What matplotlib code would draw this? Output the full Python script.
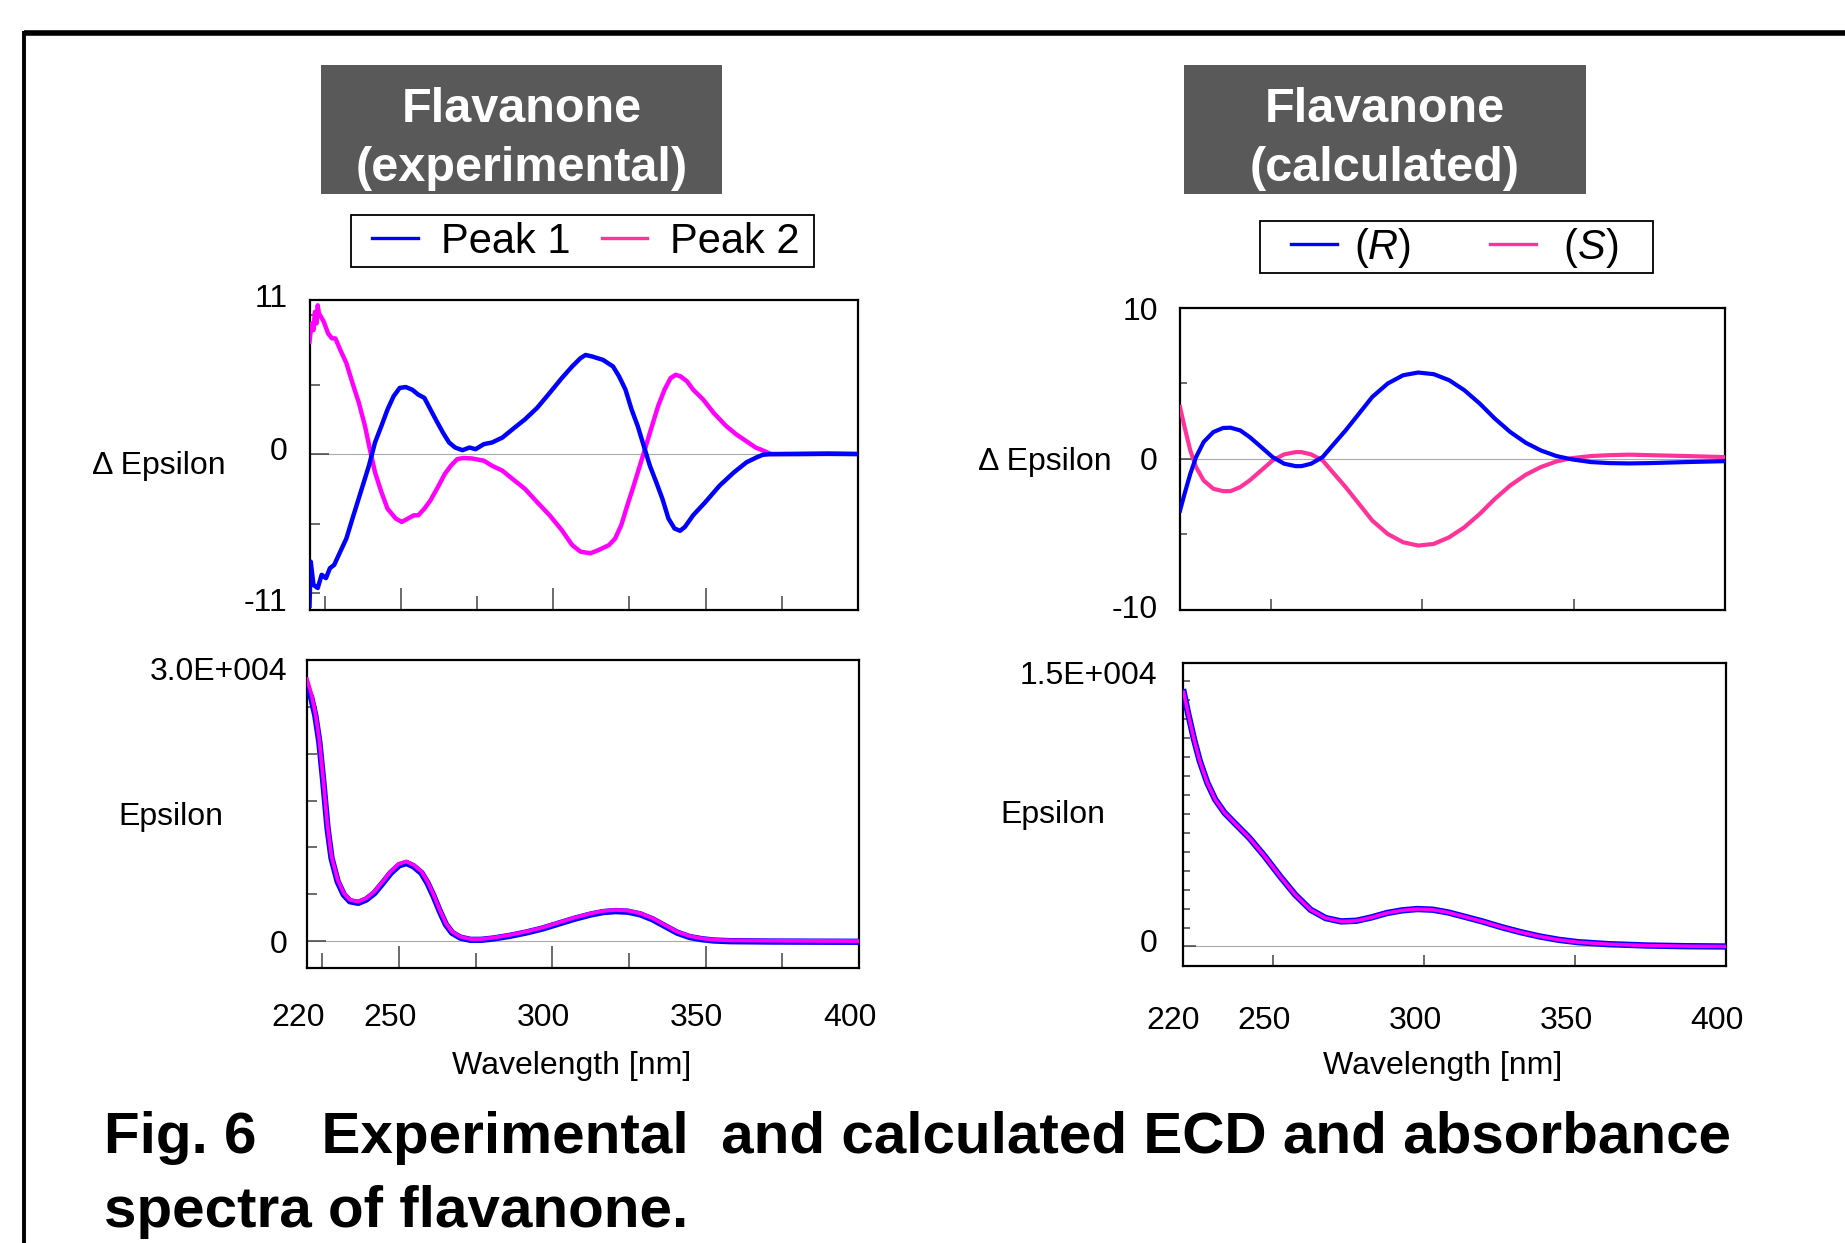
import numpy as np
import matplotlib
matplotlib.use("Agg")
import matplotlib.pyplot as plt
from matplotlib.lines import Line2D
from matplotlib.patches import Rectangle
from matplotlib.transforms import ScaledTranslation

plt.rcParams['font.family'] = ['Liberation Sans', 'DejaVu Sans']
plt.rcParams['mathtext.fontset'] = 'custom'
plt.rcParams['mathtext.rm'] = 'Liberation Sans'
plt.rcParams['mathtext.it'] = 'Liberation Sans:italic'

# ---------------- data ----------------
# Experimental ECD, Peak 1
exp_p1_nm = [220.0, 220.4, 221.3, 222.7, 224.0, 225.4, 226.7, 228.1, 230.1, 232.1, 234.1, 236.8,
             239.5, 241.5, 243.6, 245.6, 247.6, 249.6, 251.6, 253.7, 255.7, 257.7, 259.7, 261.7,
             263.8, 265.8, 267.8, 270.2, 272.5, 274.5, 277.2, 279.9, 283.3, 286.6, 290.7, 294.7,
             298.8, 302.8, 306.2, 308.9, 310.6, 312.9, 316.3, 319.6, 321.6, 323.7, 325.7, 327.7,
             329.7, 331.7, 333.8, 335.8, 337.8, 339.8, 341.6, 343.2, 345.9, 349.9, 354.6, 359.3,
             363.4, 366.7, 368.8, 371.5, 380.0, 390.0, 400.0]
exp_p1_de = [-12.0, -8.51, -10.35, -10.6, -9.55, -9.82, -9.03, -8.77, -7.72, -6.68, -5.10, -3.01,
             -0.92, 0.92, 2.23, 3.53, 4.58, 5.24, 5.31, 5.10, 4.71, 4.45, 3.53, 2.62,
             1.70, 0.92, 0.52, 0.31, 0.52, 0.39, 0.79, 0.92, 1.31, 1.96, 2.75, 3.66,
             4.84, 6.02, 6.94, 7.59, 7.85, 7.72, 7.46, 6.94, 6.15, 5.10, 3.53, 2.23,
             0.65, -0.92, -2.23, -3.53, -5.10, -5.89, -6.07, -5.76, -4.84, -3.80, -2.49, -1.44,
             -0.65, -0.26, -0.05, 0.0, 0.0, 0.02, 0.0]

# Experimental ECD, Peak 2
exp_p2_nm = [220.0, 220.7, 221.3, 221.8, 222.3, 222.7, 223.1, 223.8, 224.7, 226.1, 227.4, 228.5,
             230.1, 232.1, 234.1, 236.2, 238.2, 239.8, 241.5, 243.6, 245.6, 248.3, 250.3, 252.3,
             254.3, 255.7, 257.7, 259.7, 262.4, 264.4, 266.4, 268.5, 270.5, 273.2, 277.2, 279.9,
             283.3, 286.6, 290.7, 294.7, 298.8, 302.8, 306.2, 308.9, 312.2, 314.9, 318.3, 320.3,
             322.3, 324.3, 326.4, 328.4, 330.4, 332.4, 334.4, 336.5, 338.5, 340.2, 341.8, 343.9,
             345.9, 349.2, 352.6, 356.7, 360.0, 364.0, 366.4, 369.1, 371.5, 380.0, 390.0, 400.0]
exp_p2_de = [8.90, 10.34, 9.82, 11.26, 10.34, 11.78, 11.13, 10.86, 10.47, 9.55, 9.16, 9.16,
             8.25, 7.20, 5.63, 4.06, 2.23, 0.39, -1.44, -3.01, -4.32, -5.10, -5.37, -5.10,
             -4.84, -4.84, -4.32, -3.66, -2.49, -1.57, -0.92, -0.39, -0.31, -0.34, -0.52, -0.92,
             -1.31, -1.96, -2.75, -3.80, -4.84, -6.02, -7.20, -7.72, -7.85, -7.59, -7.20, -6.68,
             -5.63, -4.06, -2.49, -0.92, 0.65, 2.23, 3.80, 5.10, 6.02, 6.28, 6.15, 5.76,
             5.10, 4.32, 3.27, 2.23, 1.57, 0.92, 0.52, 0.26, 0.0, 0.03, 0.06, 0.02]

# Experimental absorbance
exp_abs_nm = [220.0, 221.3, 222.7, 224.0, 225.3, 226.7, 228.0, 230.0, 232.0, 234.0, 236.7, 239.3,
              242.0, 244.7, 247.3, 250.0, 252.4, 254.7, 257.3, 259.3, 261.3, 263.3, 265.3, 267.3,
              270.0, 273.3, 276.7, 280.7, 286.0, 291.3, 296.7, 302.0, 307.3, 312.7, 316.7, 320.7,
              324.7, 328.7, 332.7, 336.7, 340.7, 344.7, 348.7, 352.7, 358.0, 371.3, 400.0]
exp_abs_p2 = [27964, 26536, 24393, 21536, 17250, 12250, 9036, 6536, 5107, 4393, 4214, 4571,
              5286, 6357, 7429, 8250, 8500, 8143, 7429, 6357, 4929, 3321, 1893, 1000,
              464, 214, 214, 357, 643, 1000, 1429, 1964, 2500, 2964, 3214, 3321,
              3250, 2964, 2429, 1714, 1000, 536, 286, 143, 71, 36, 0]
exp_abs_p1 = [26800, 26100, 24100, 21300, 17050, 12050, 8850, 6350, 4950, 4250, 4080, 4430,
              5130, 6200, 7270, 8080, 8330, 7990, 7280, 6200, 4780, 3190, 1770, 890,
              370, 130, 130, 270, 550, 900, 1330, 1860, 2390, 2850, 3100, 3200,
              3130, 2850, 2320, 1610, 900, 440, 200, 60, -10, -50, -80]

# Calculated ECD
calc_ecd_nm = [220.0, 221.5, 223.4, 225.3, 227.8, 231.0, 234.2, 236.7, 239.9, 243.0, 246.8, 250.6,
               254.4, 258.2, 260.1, 263.3, 267.1, 270.9, 274.7, 279.1, 283.5, 288.6, 293.7, 298.7,
               303.8, 308.9, 313.9, 319.0, 324.0, 329.1, 334.2, 339.2, 344.3, 349.4, 355.7, 362.0,
               368.4, 374.7, 387.3, 400.0]
calc_R = [-3.44, -2.33, -1.00, 0.11, 1.11, 1.77, 2.04, 2.06, 1.88, 1.44, 0.78, 0.11,
          -0.33, -0.49, -0.49, -0.33, 0.11, 1.00, 1.88, 2.99, 4.10, 4.99, 5.54, 5.72,
          5.61, 5.21, 4.55, 3.66, 2.66, 1.77, 1.06, 0.55, 0.18, -0.04, -0.22, -0.29,
          -0.31, -0.29, -0.22, -0.16]
calc_S = [3.44, 2.11, 0.55, -0.55, -1.44, -1.99, -2.15, -2.15, -1.88, -1.44, -0.78, -0.11,
          0.29, 0.44, 0.44, 0.29, -0.11, -1.00, -1.88, -2.99, -4.10, -4.99, -5.54, -5.76,
          -5.65, -5.21, -4.55, -3.66, -2.66, -1.77, -1.06, -0.55, -0.18, 0.04, 0.18, 0.24,
          0.27, 0.24, 0.18, 0.11]

# Calculated absorbance
calc_abs_nm = [220.4, 221.9, 223.8, 225.7, 228.2, 230.8, 233.9, 237.7, 242.1, 247.2, 252.3, 257.3,
               262.4, 267.4, 272.5, 277.6, 282.6, 287.7, 292.7, 297.8, 302.9, 307.9, 313.0, 319.3,
               325.6, 331.9, 338.3, 344.6, 350.9, 361.0, 373.7, 386.3, 400.0]
calc_abs = [13428, 12279, 10954, 9806, 8657, 7774, 7067, 6449, 5742, 4770, 3710, 2739,
            1943, 1502, 1325, 1360, 1537, 1767, 1908, 1979, 1943, 1802, 1590, 1325,
            1025, 760, 530, 353, 230, 124, 53, 18, 0]

x_labels = ['220', '250', '300', '350', '400']
x_label_pos = [220, 250, 300, 350, 400]

BLUE = '#0000FF'
MAG = '#FF00FF'
PINK = '#FF3399'
FS = 23

fig = plt.figure(figsize=(18.45, 12.43), dpi=100)
W, H = 1845.0, 1243.0


def px_axes(x0, y0, x1, y1):
    return fig.add_axes([x0 / W, 1 - y1 / H, (x1 - x0) / W, (y1 - y0) / H])


def shift(label, dx_px, dy_px):
    label.set_transform(label.get_transform() +
                        ScaledTranslation(dx_px / 100.0, dy_px / 100.0, fig.dpi_scale_trans))


def style(ax):
    for s in ax.spines.values():
        s.set_color('black')
        s.set_linewidth(1.6)
    ax.set_xlim(220, 400)
    ax.tick_params(axis='both', which='both', direction='in', colors='#444444',
                   labelcolor='black', labelsize=FS, width=1.1)
    ax.tick_params(axis='both', which='both', top=False, right=False)
    ax.axhline(0, color='#aaaaaa', lw=0.8, zorder=1)


# ---------------- top left ----------------
ax1 = px_axes(309.5, 300, 858, 609.5)
style(ax1)
ax1.plot(exp_p2_nm, exp_p2_de, color=MAG, lw=3.2, zorder=3, solid_joinstyle='round')
ax1.plot(exp_p1_nm, exp_p1_de, color=BLUE, lw=3.2, zorder=4, solid_joinstyle='round')
ax1.set_ylim(-12.3, 12.2)
ax1.set_yticks([-11, 0, 11])
ax1.set_yticklabels(['-11', '0', '11'])
ax1.set_yticks([-5.5, 5.5], minor=True)
ax1.tick_params(axis='y', which='both', length=7, pad=16)
ax1.set_xticks([220, 250, 300, 350, 400])
ax1.set_xticks([225, 275, 325, 375], minor=True)
ax1.tick_params(axis='x', which='major', length=16, labelbottom=False)
ax1.tick_params(axis='x', which='minor', length=10)
ax1.yaxis.get_major_ticks()[1].tick1line.set_markersize(14)
ylabs = ax1.get_yticklabels()
shift(ylabs[0], 0, -6)
shift(ylabs[1], 0, 6)
shift(ylabs[2], 0, 20)
ax1.set_ylabel('Δ Epsilon', rotation=0, fontsize=FS, ha='center', va='center')
ax1.yaxis.set_label_coords(-0.274, 0.463)

# ---------------- bottom left ----------------
ax2 = px_axes(307, 660, 859, 968)
style(ax2)
ax2.plot(exp_abs_nm, exp_abs_p1, color=BLUE, lw=4.6, zorder=3, solid_joinstyle='round')
ax2.plot(exp_abs_nm, exp_abs_p2, color=MAG, lw=2.7, zorder=4, solid_joinstyle='round')
ax2.set_ylim(-2875, 30000)
ax2.set_yticks([0, 30000])
ax2.set_yticklabels(['0', '3.0E+004'])
ax2.set_yticks([5000, 10000, 15000, 20000, 25000], minor=True)
ax2.tick_params(axis='y', which='minor', length=7)
ax2.tick_params(axis='y', which='major', length=14, pad=14)
ax2.set_xticks(x_label_pos)
ax2.set_xticklabels(x_labels)
ax2.set_xticks([225, 275, 325, 375], minor=True)
ax2.tick_params(axis='x', which='major', length=16, pad=25)
ax2.tick_params(axis='x', which='minor', length=11)
shift(ax2.get_yticklabels()[1], 0, -9)
for lab in ax2.get_xticklabels():
    shift(lab, -9, 0)
ax2.set_ylabel('Epsilon', rotation=0, fontsize=FS, ha='center', va='center')
ax2.yaxis.set_label_coords(-0.247, 0.49)
ax2.set_xlabel('Wavelength [nm]', fontsize=FS)
ax2.xaxis.set_label_coords(0.48, -0.27)

# ---------------- top right ----------------
ax3 = px_axes(1180, 308, 1725, 609.5)
style(ax3)
ax3.plot(calc_ecd_nm, calc_S, color=PINK, lw=3.0, zorder=3, solid_joinstyle='round')
ax3.plot(calc_ecd_nm, calc_R, color=BLUE, lw=3.0, zorder=4, solid_joinstyle='round')
ax3.set_ylim(-10, 10)
ax3.set_yticks([-10, 0, 10])
ax3.set_yticklabels(['-10', '0', '10'])
ax3.set_yticks([-5, 5], minor=True)
ax3.tick_params(axis='y', which='both', length=5, pad=16)
ax3.yaxis.get_major_ticks()[1].tick1line.set_markersize(9)
shift(ax3.get_yticklabels()[0], 0, 3)
ax3.set_xticks([250, 300, 350])
ax3.tick_params(axis='x', which='major', length=8, labelbottom=False)
ax3.set_ylabel('Δ Epsilon', rotation=0, fontsize=FS, ha='center', va='center')
ax3.yaxis.set_label_coords(-0.248, 0.49)

# ---------------- bottom right ----------------
ax4 = px_axes(1182.5, 662.5, 1726, 966)
style(ax4)
ax4.plot(calc_abs_nm, calc_abs, color=BLUE, lw=4.6, zorder=3, solid_joinstyle='round')
ax4.plot(calc_abs_nm, calc_abs, color=MAG, lw=2.5, zorder=4, solid_joinstyle='round')
ax4.set_ylim(-1030, 15000)
ax4.set_yticks([0, 15000])
ax4.set_yticklabels(['0', '1.5E+004'])
ax4.set_yticks(list(range(1000, 15000, 1000)), minor=True)
ax4.tick_params(axis='y', which='minor', length=5)
ax4.tick_params(axis='y', which='major', length=9, pad=18)
ax4.set_xticks(x_label_pos)
ax4.set_xticklabels(x_labels)
ax4.tick_params(axis='x', which='major', length=8, pad=29)
shift(ax4.get_yticklabels()[1], 0, -10)
shift(ax4.get_yticklabels()[0], 0, 6)
for lab in ax4.get_xticklabels():
    shift(lab, -9, 0)
ax4.set_ylabel('Epsilon', rotation=0, fontsize=FS, ha='center', va='center')
ax4.yaxis.set_label_coords(-0.238, 0.496)
ax4.set_xlabel('Wavelength [nm]', fontsize=FS)
ax4.xaxis.set_label_coords(0.479, -0.28)

# ---------------- title boxes ----------------
for (x0, x1, txt) in [(321, 722, 'Flavanone\n(experimental)'),
                      (1184, 1586, 'Flavanone\n(calculated)')]:
    fig.add_artist(Rectangle((x0 / W, 1 - 194 / H), (x1 - x0) / W, 129 / H,
                             transform=fig.transFigure, facecolor='#595959',
                             edgecolor='none'))
    fig.text((x0 + x1) / 2 / W, 1 - 139 / H, txt, color='white', fontsize=35,
             fontweight='bold', ha='center', va='center', linespacing=1.42)

# ---------------- legends ----------------
for (x0, y0, x1, y1) in [(351, 215, 814, 267), (1260, 221, 1653, 273)]:
    fig.add_artist(Rectangle((x0 / W, 1 - y1 / H), (x1 - x0) / W, (y1 - y0) / H,
                             transform=fig.transFigure, facecolor='white',
                             edgecolor='black', lw=1.3, zorder=2))

h1 = [Line2D([], [], color=BLUE, lw=2.4), Line2D([], [], color=PINK, lw=2.4)]
leg1 = fig.legend(h1, ['Peak 1', 'Peak 2'], loc='center', ncol=2,
                  bbox_to_anchor=(586 / W, 1 - 242 / H), fontsize=30,
                  frameon=False, handlelength=1.1, handletextpad=0.55,
                  columnspacing=0.75, borderpad=0.1, borderaxespad=0)
leg1.set_zorder(3)

h2 = [Line2D([], [], color=BLUE, lw=2.4), Line2D([], [], color=PINK, lw=2.4)]
leg2 = fig.legend(h2, [r'($\mathit{R}$)', r' ($\mathit{S}$)'], loc='center', ncol=2,
                  bbox_to_anchor=(1455 / W, 1 - 248 / H), fontsize=30,
                  frameon=False, handlelength=1.1, handletextpad=0.4,
                  columnspacing=1.9, borderpad=0.1, borderaxespad=0)
leg2.set_zorder(3)

# ---------------- frame ----------------
fig.add_artist(Line2D([24 / W, 1.0], [1 - 33 / H, 1 - 33 / H], transform=fig.transFigure,
                      color='black', lw=4.0, solid_capstyle='butt'))
fig.add_artist(Line2D([24 / W, 24 / W], [0, 1 - 31 / H], transform=fig.transFigure,
                      color='black', lw=2.8, solid_capstyle='butt'))

# ---------------- caption ----------------
fig.text(103.5 / W, 1 - 1153 / H,
         'Fig. 6    Experimental  and calculated ECD and absorbance',
         fontsize=42, fontweight='bold', ha='left', va='baseline')
fig.text(103.5 / W, 1 - 1227 / H, 'spectra of flavanone.',
         fontsize=42, fontweight='bold', ha='left', va='baseline')

fig.savefig('out.png', dpi=100)
